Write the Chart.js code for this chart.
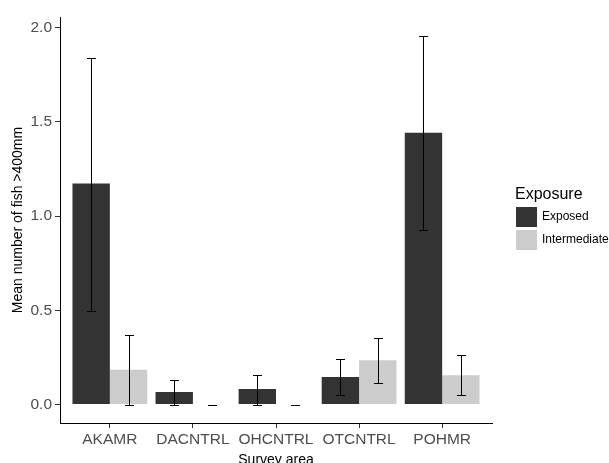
<!DOCTYPE html>
<html>
<head>
<meta charset="utf-8">
<script src="https://cdn.jsdelivr.net/npm/chart.js@4"></script>
<style>
  html, body { margin: 0; padding: 0; background: #fff; }
  #wrap { width: 609px; height: 463px; }
</style>
</head>
<body>
<div id="wrap"><canvas id="chart" width="609" height="463"></canvas></div>
<script>
const areas = ["AKAMR", "DACNTRL", "OHCNTRL", "OTCNTRL", "POHMR"];
const yTicks = [0, 0.5, 1.0, 1.5, 2.0];

const exposedMean = [1.172, 0.067, 0.083, 0.146, 1.442];
const exposedLow = [0.495, 0.0, 0.0, 0.048, 0.924];
const exposedHigh = [1.838, 0.129, 0.157, 0.240, 1.957];

const interMean = [0.184, 0.0, 0.0, 0.235, 0.155];
const interLow = [0.0, 0.0, 0.0, 0.113, 0.048];
const interHigh = [0.369, 0.0, 0.0, 0.352, 0.261];

const FONT = "'Liberation Sans', Arial, sans-serif";
const toPoints = (vals) => vals.map((v, i) => ({ x: i + 1, y: v }));

// error bars drawn through the y scale
const errorBars = {
  id: "errorBars",
  afterDatasetsDraw(chart) {
    const ctx = chart.ctx;
    const y = chart.scales.y;
    ctx.save();
    ctx.strokeStyle = "#000";
    ctx.lineWidth = 1;
    chart.data.datasets.forEach((ds, di) => {
      const meta = chart.getDatasetMeta(di);
      meta.data.forEach((bar, i) => {
        const top = Math.round(y.getPixelForValue(ds.errHigh[i])) + 0.5;
        const bot = Math.round(y.getPixelForValue(ds.errLow[i])) + 0.5;
        const x = Math.round(bar.x) + 0.5;
        ctx.beginPath();
        ctx.moveTo(x, top);
        ctx.lineTo(x, bot);
        ctx.moveTo(x - 4.5, top);
        ctx.lineTo(x + 4.5, top);
        ctx.moveTo(x - 4.5, bot);
        ctx.lineTo(x + 4.5, bot);
        ctx.stroke();
      });
    });
    ctx.restore();
  },
};

// ggplot-like legend on the right
const sideLegend = {
  id: "sideLegend",
  afterDraw(chart) {
    const ctx = chart.ctx;
    ctx.save();
    ctx.fillStyle = "#000";
    ctx.font = "16px " + FONT;
    ctx.textBaseline = "middle";
    ctx.fillText("Exposure", 515, 195);
    ctx.font = "12px " + FONT;
    chart.data.datasets.forEach((ds, i) => {
      const top = 207 + i * 23;
      ctx.fillStyle = ds.backgroundColor;
      ctx.fillRect(516, top, 21, 20);
      ctx.fillStyle = "#000";
      ctx.fillText(ds.label, 542, top + 10);
    });
    ctx.restore();
  },
};

new Chart(document.getElementById("chart"), {
  type: "bar",
  data: {
    datasets: [
      {
        label: "Exposed",
        data: toPoints(exposedMean),
        errLow: exposedLow,
        errHigh: exposedHigh,
        backgroundColor: "#333333",
      },
      {
        label: "Intermediate",
        data: toPoints(interMean),
        errLow: interLow,
        errHigh: interHigh,
        backgroundColor: "#cccccc",
      },
    ],
  },
  options: {
    responsive: false,
    animation: false,
    layout: { padding: { top: 17, right: 117, left: 0, bottom: 0 } },
    datasets: { bar: { categoryPercentage: 0.9, barPercentage: 1.0 } },
    plugins: {
      legend: { display: false },
      tooltip: { enabled: false },
    },
    scales: {
      x: {
        type: "linear",
        min: 0.4,
        max: 5.6,
        offset: false,
        afterBuildTicks: (s) => { s.ticks = areas.map((a, i) => ({ value: i + 1 })); },
        afterFit: (s) => { s.height = 40; },
        ticks: {
          callback: (v) => areas[v - 1],
          color: "#4d4d4d",
          font: { family: FONT, size: 15.5 },
          padding: 2,
          maxRotation: 0,
        },
        grid: { offset: false, drawOnChartArea: false, drawTicks: true, tickLength: 5, color: "#333" },
        border: { display: true, color: "#000", width: 1 },
        title: {
          display: true,
          text: "Survey area",
          color: "#000",
          font: { family: FONT, size: 14 },
          padding: { top: 0, bottom: -6 },
        },
      },
      y: {
        min: -0.098,
        max: 2.056,
        afterBuildTicks: (s) => { s.ticks = yTicks.map((v) => ({ value: v })); },
        afterFit: (s) => { s.width = 60; },
        ticks: {
          callback: (v) => v.toFixed(1),
          color: "#4d4d4d",
          font: { family: FONT, size: 15.5 },
          padding: 3,
        },
        grid: { drawOnChartArea: false, drawTicks: true, tickLength: 5, color: "#333" },
        border: { display: true, color: "#000", width: 1 },
        title: {
          display: true,
          text: "Mean number of fish >400mm",
          color: "#000",
          font: { family: FONT, size: 14 },
          padding: { top: 10, bottom: 0 },
        },
      },
    },
  },
  plugins: [errorBars, sideLegend],
});
</script>
</body>
</html>
